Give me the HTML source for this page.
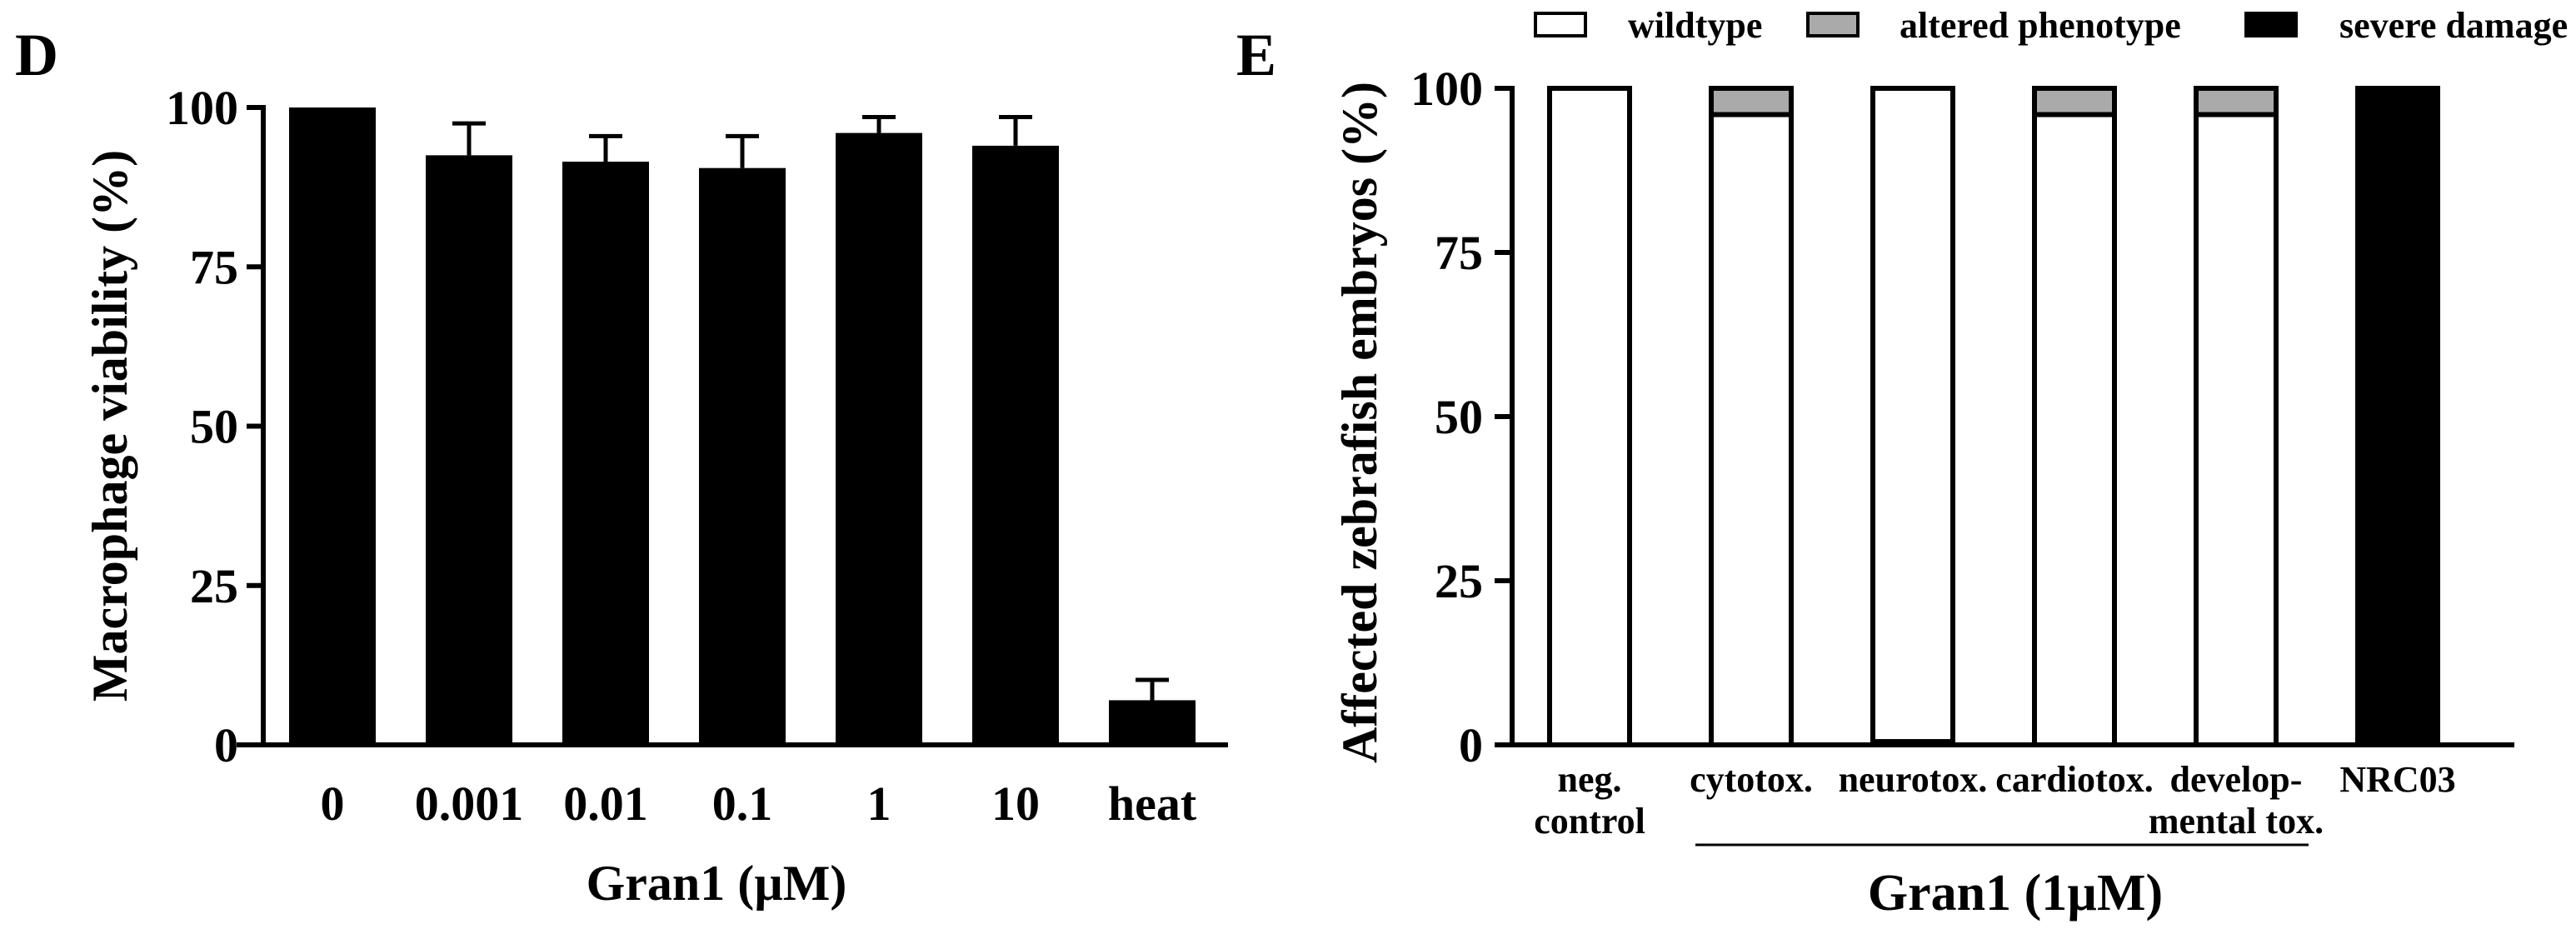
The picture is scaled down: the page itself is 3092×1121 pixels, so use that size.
<!DOCTYPE html>
<html><head><meta charset="utf-8"><style>
html,body{margin:0;padding:0;background:#fff}
svg{display:block}
svg text{font-family:"Liberation Serif","Times New Roman",serif !important;font-weight:bold}
</style></head><body>
<svg id="c" width="3092" height="1121" viewBox="0 0 3092 1121" xmlns="http://www.w3.org/2000/svg" font-family="Liberation Serif, serif" font-weight="bold">
<text x="18" y="90" font-size="72" font-family="Liberation Serif, serif">D</text>
<text x="1484" y="90" font-size="72" font-family="Liberation Serif, serif">E</text>
<g id="left"></g>
<g id="right"></g>
</svg>
<script>
const dCats = ["0","0.001","0.01","0.1","1","10","heat"];
const dMeans = [100,92.5,91.5,90.5,96,94,7];
const dErr = [0,5,4,5,2.5,4.5,3.2];
const dTicks = [0,25,50,75,100];

const eCats = [["neg.","control"],["cytotox."],["neurotox."],["cardiotox."],["develop-","mental tox."],["NRC03"]];
const eWild = [100,96,99.5,96,96,0];
const eAlt = [0,4,0,4,4,0];
const eSevere = [0,0,0.5,0,0,100];
const eTicks = [0,25,50,75,100];

const NS="http://www.w3.org/2000/svg";
function mk(parent,tag,attrs){const e=document.createElementNS(NS,tag);for(const k in attrs)e.setAttribute(k,attrs[k]);if(tag==='text'){e.setAttribute('font-family','Liberation Serif, serif');e.setAttribute('font-weight','bold');}parent.appendChild(e);return e;}

// Left chart
const L=document.getElementById('left');
const ly=v=>894-(894-129)*v/100;
const lx=i=>399+i*164;
const bw=104;
dTicks.forEach(t=>{
  const tk=mk(L,'line',{x1:296,x2:316,y1:ly(t),y2:ly(t),stroke:'#000','stroke-width':6});
  
  
  const tl=mk(L,'text',{x:286,y:ly(t)+20,'font-size':58,'text-anchor':'end'});
  tl.textContent=t;
  
  
});
dCats.forEach((c,i)=>{
  const x=lx(i);
  if(dErr[i]>0){
    const e=mk(L,'path',{d:`M${x} ${ly(dMeans[i])} V${ly(dMeans[i]+dErr[i])} M${x-20} ${ly(dMeans[i]+dErr[i])} H${x+20}`,stroke:'#000','stroke-width':5,fill:'none'});
    
    
  }
  const b=mk(L,'rect',{x:x-bw/2,y:ly(dMeans[i]),width:bw,height:ly(0)-ly(dMeans[i]),fill:'#000'});
  
  
  const t=mk(L,'text',{x:x,y:984,'font-size':58,'text-anchor':'middle'});
  t.textContent=c;
  
  
});
const lax=mk(L,'path',{d:'M316 126 V897 M284 894 H1474',stroke:'#000','stroke-width':6,fill:'none'});


const lxt=mk(L,'text',{x:860,y:1080,'font-size':60,'text-anchor':'middle'});
lxt.textContent='Gran1 (µM)';


const lyt=mk(L,'text',{x:0,y:0,'font-size':60,'text-anchor':'middle',transform:'translate(152,511) rotate(-90)'});
lyt.textContent='Macrophage viability (%)';



// Right chart
const R=document.getElementById('right');
const ry=v=>894-(894-106)*v/100;
const rx=i=>1908+i*194;
const rbw=96;
eTicks.forEach(t=>{
  const tk=mk(R,'line',{x1:1794,x2:1815,y1:ry(t),y2:ry(t),stroke:'#000','stroke-width':6});
  
  
  const tl=mk(R,'text',{x:1780,y:ry(t)+20,'font-size':58,'text-anchor':'end'});
  tl.textContent=t;
  
  
});
eCats.forEach((c,i)=>{
  const x=rx(i);
  let base=0;
  [[eSevere[i],'#000'],[eWild[i],'#fff'],[eAlt[i],'#aaa']].forEach(([v,f])=>{
    if(v<=0)return;
    const s=mk(R,'rect',{x:x-rbw/2,y:ry(base+v),width:rbw,height:ry(base)-ry(base+v),fill:f,stroke:'#000','stroke-width':6});
    
    
    base+=v;
  });
  c.forEach((line,k)=>{
    const t=mk(R,'text',{x:x,y:950+k*50,'font-size':44,'text-anchor':'middle'});
    t.textContent=line;
    
    
  });
});
const rax=mk(R,'path',{d:'M1815 103 V897 M1794 894 H3018',stroke:'#000','stroke-width':6,fill:'none'});


const grp=mk(R,'line',{x1:2035,x2:2771,y1:1014,y2:1014,stroke:'#000','stroke-width':3});


const rxt=mk(R,'text',{x:2419,y:1092,'font-size':62,'text-anchor':'middle'});
rxt.textContent='Gran1 (1µM)';


const ryt=mk(R,'text',{x:0,y:0,'font-size':60,'text-anchor':'middle',transform:'translate(1652,507) rotate(-90)'});
ryt.textContent='Affected zebrafish embryos (%)';


const legItems=[['wildtype','#fff',1843,1954],['altered phenotype','#aaa',2170,2280],['severe damage','#000',2696,2808]];
legItems.forEach(([n,f,bx,tx])=>{
  const r=mk(R,'rect',{x:bx,y:16,width:60,height:27,fill:f,stroke:'#000','stroke-width':4});
  
  
  const t=mk(R,'text',{x:tx,y:45,'font-size':44});
  t.textContent=n;
  
  
});
</script>
</body></html>
